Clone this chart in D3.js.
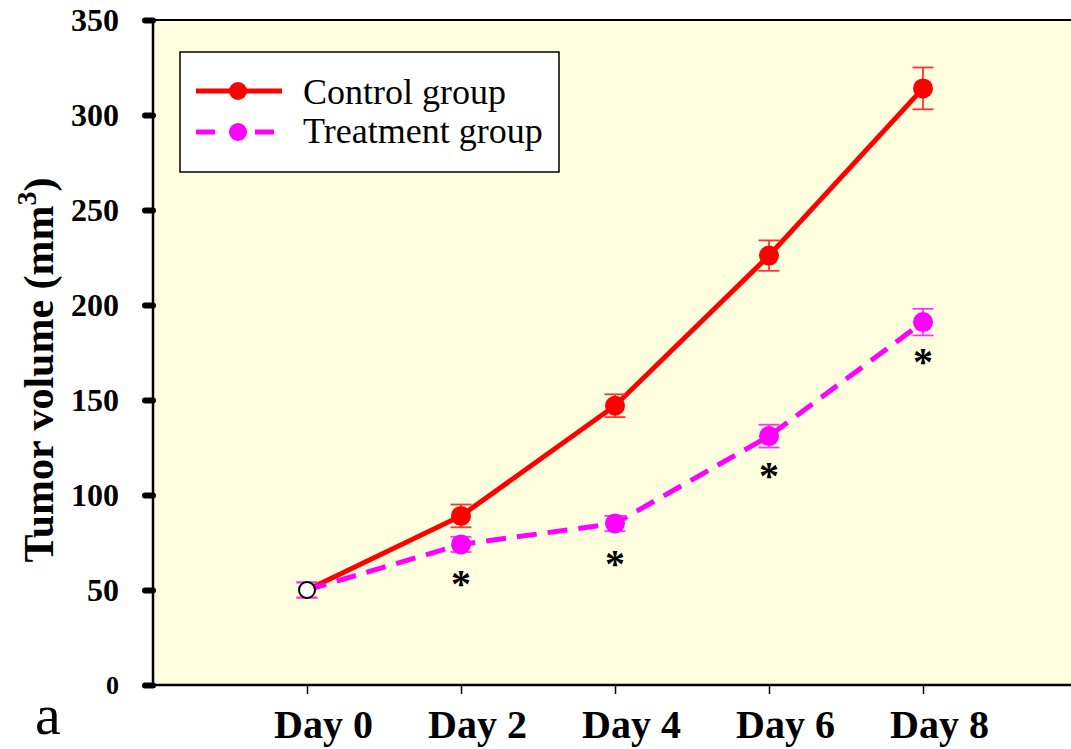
<!DOCTYPE html>
<html><head><meta charset="utf-8">
<script src="https://cdn.jsdelivr.net/npm/d3@7/dist/d3.min.js"></script>
<style>body{margin:0;background:#fff}svg{display:block}</style>
</head><body>
<svg id="c" width="1071" height="749"></svg>
<script>
const days = [0, 2, 4, 6, 8];
const dayLabels = ["Day 0", "Day 2", "Day 4", "Day 6", "Day 8"];
const controlMean = [50, 89, 147, 226, 314];
const controlErr = [4, 6, 6, 8, 11];
const treatMean = [50, 74, 85, 131, 191];
const treatErr = [4, 4, 4, 6, 7];
const sigMarks = ["", "*", "*", "*", "*"];
const yTicks = [0, 50, 100, 150, 200, 250, 300, 350];

const svg = d3.select("#c");
const serif = "'Liberation Serif','Times New Roman',serif";
const x = d3.scaleLinear().domain([-2, 10]).range([153, 1077]);
const y = d3.scaleLinear().domain([0, 350]).range([685, 20]);

svg.append("rect").attr("x", 153).attr("y", 20).attr("width", 930).attr("height", 665).attr("fill", "#ffffe0");
svg.append("line").attr("x1", 153).attr("x2", 1071).attr("y1", 20).attr("y2", 20).attr("stroke", "#000").attr("stroke-width", 2);

// Y axis
const ya = svg.append("g").attr("transform", "translate(153,0)")
  .call(d3.axisLeft(y).tickValues(yTicks).tickSize(10).tickPadding(24));
ya.select(".domain").attr("stroke-width", 2.5).attr("d", "M0,20V685");
ya.selectAll(".tick line").attr("stroke-width", 6).attr("stroke-linecap", "round").attr("x2", -8);
ya.selectAll(".tick text").attr("font-family", serif).attr("font-weight", "bold").attr("font-size", 32).attr("fill", "#000")
  .attr("dy", "0.34em");
ya.selectAll(".tick").filter(d => d === 0).select("text").attr("font-size", 26);

// X axis
const xa = svg.append("g").attr("transform", "translate(0,685)")
  .call(d3.axisBottom(x).tickValues(days).tickSize(9).tickFormat((d, i) => dayLabels[i]));
xa.select(".domain").attr("stroke-width", 2.5).attr("d", "M153,0H1071");
xa.selectAll(".tick line").attr("stroke-width", 1.5);
xa.selectAll(".tick text").attr("font-family", serif).attr("font-weight", "bold").attr("font-size", 40).attr("fill", "#000")
  .attr("dy", null).attr("y", 53).attr("dx", 16);

// Y title
const yt = svg.append("text").attr("transform", "translate(53,370) rotate(-90)").attr("text-anchor", "middle")
  .attr("font-family", serif).attr("font-weight", "bold").attr("font-size", 42);
yt.append("tspan").text("Tumor volume (mm");
yt.append("tspan").attr("dy", -17).attr("font-size", 28).text("3");
yt.append("tspan").attr("dy", 17).text(")");

svg.append("text").attr("x", 35).attr("y", 734).attr("font-family", serif).attr("font-size", 58).text("a");

const line = d3.line().x((d, i) => x(days[i])).y(d => y(d));

function series(mean, err, color, errColor, dash, r) {
  const g = svg.append("g");
  g.append("path").datum(mean).attr("d", line).attr("fill", "none").attr("stroke", color)
    .attr("stroke-width", 5).attr("stroke-dasharray", dash);
  mean.forEach((m, i) => {
    const cx = x(days[i]);
    g.append("line").attr("x1", cx).attr("x2", cx).attr("y1", y(m - err[i])).attr("y2", y(m + err[i])).attr("stroke", errColor).attr("stroke-width", 1.8);
    [m - err[i], m + err[i]].forEach(v => g.append("line").attr("x1", cx - 10.5).attr("x2", cx + 10.5).attr("y1", y(v)).attr("y2", y(v)).attr("stroke", errColor).attr("stroke-width", 1.8));
  });
  mean.forEach((m, i) => {
    if (i === 0) return;
    g.append("circle").attr("cx", x(days[i])).attr("cy", y(m)).attr("r", r).attr("fill", color);
  });
}
series(controlMean, controlErr, "#ff0000", "#ff3333", null, 10);
series(treatMean, treatErr, "#ff00ff", "#ff33ff", "20,11", 10);

// Day 0 shared point
svg.append("circle").attr("cx", x(days[0])).attr("cy", y(controlMean[0])).attr("r", 8).attr("fill", "#fff").attr("stroke", "#000").attr("stroke-width", 2);

// significance marks
svg.selectAll(".sig").data(sigMarks).enter().append("text")
  .attr("x", (d, i) => x(days[i])).attr("y", (d, i) => y(treatMean[i]) + 53)
  .attr("text-anchor", "middle").attr("font-family", serif).attr("font-weight", "bold").attr("font-size", 40).text(d => d);

// Legend
const lg = svg.append("g");
lg.append("rect").attr("x", 180).attr("y", 52).attr("width", 379).attr("height", 120).attr("fill", "#fff").attr("stroke", "#000").attr("stroke-width", 1.5);
lg.append("line").attr("x1", 196).attr("x2", 282).attr("y1", 91).attr("y2", 91).attr("stroke", "#ff0000").attr("stroke-width", 5);
lg.append("circle").attr("cx", 238).attr("cy", 91).attr("r", 9).attr("fill", "#ff0000");
lg.append("line").attr("x1", 196).attr("x2", 215).attr("y1", 132).attr("y2", 132).attr("stroke", "#ff00ff").attr("stroke-width", 5);
lg.append("line").attr("x1", 255).attr("x2", 274).attr("y1", 132).attr("y2", 132).attr("stroke", "#ff00ff").attr("stroke-width", 5);
lg.append("circle").attr("cx", 238).attr("cy", 132).attr("r", 9).attr("fill", "#ff00ff");
lg.append("text").attr("x", 303).attr("y", 104).attr("font-family", serif).attr("font-size", 36).text("Control group");
lg.append("text").attr("x", 303).attr("y", 143).attr("font-family", serif).attr("font-size", 36).text("Treatment group");
</script>
</body></html>
